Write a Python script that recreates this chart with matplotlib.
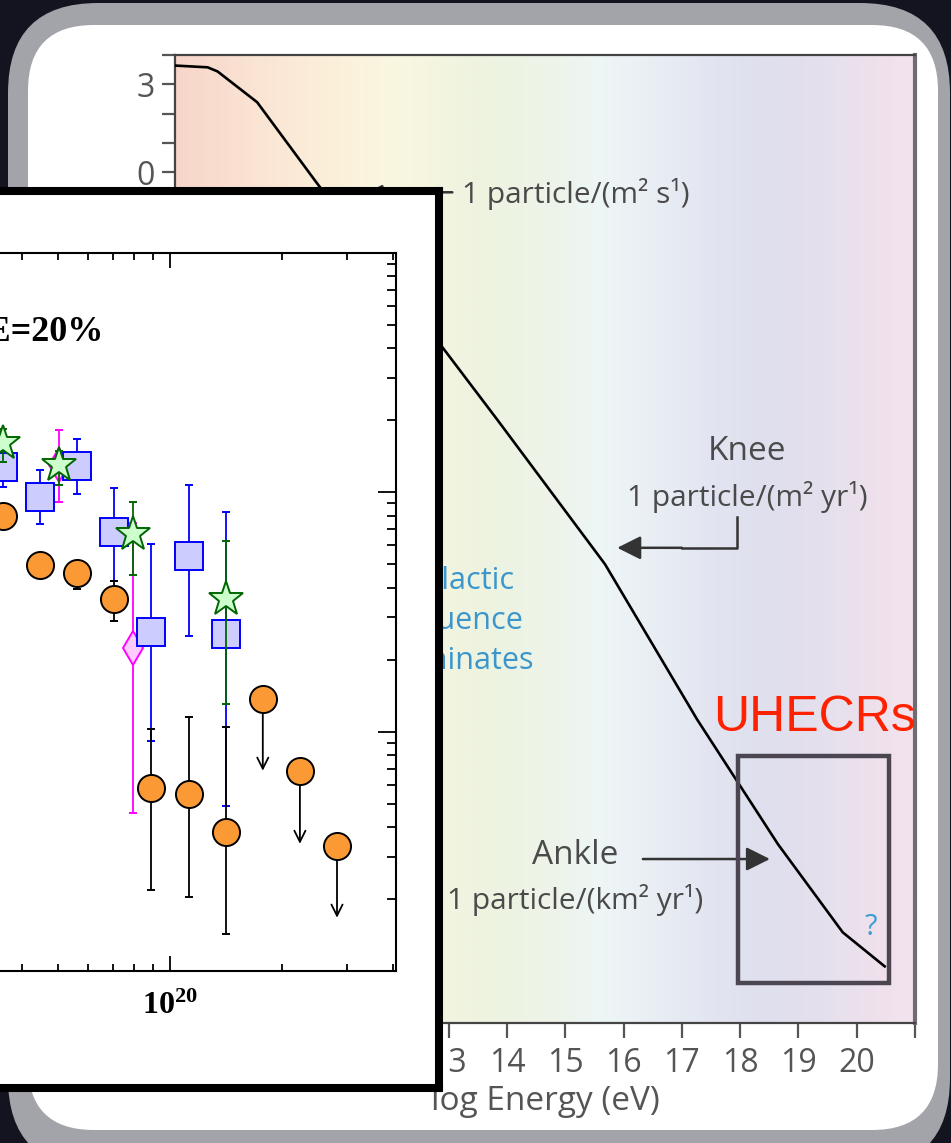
import matplotlib
matplotlib.use("Agg")
import matplotlib.pyplot as plt
import numpy as np
from matplotlib.patches import FancyBboxPatch, Rectangle
from matplotlib.colors import LinearSegmentedColormap
from matplotlib.ticker import LogLocator, FuncFormatter, NullFormatter

plt.rcParams['mathtext.fontset'] = 'custom'
plt.rcParams['mathtext.rm'] = 'Liberation Serif'
plt.rcParams['mathtext.bf'] = 'Liberation Serif:bold'

# ---- main spectrum: log flux vs log energy
spec_logE = [8.30, 8.86, 9.03, 9.71, 10.74, 12.85, 13.83, 15.68, 17.26, 18.65, 19.76, 20.48]
spec_logF = [3.64, 3.58, 3.44, 2.39, -0.38, -5.86, -8.43, -13.36, -18.65, -22.91, -25.91, -27.07]

x_ticks = [9, 10, 11, 12, 13, 14, 15, 16, 17, 18, 19, 20, 21]
x_ticklabels = ['9', '10', '11', '12', '13', '14', '15', '16', '17', '18', '19', '20', '']
y_ticks = list(range(-29, 5))
y_ticklabels = [str(v) if v % 3 == 0 else '' for v in y_ticks]

# ---- inset: four data sets vs energy (eV)
orange_logE = [19.55, 19.65, 19.75, 19.85, 19.95, 20.05, 20.15]
orange_val = [0.80, 0.495, 0.458, 0.357, 0.0583, 0.0550, 0.0382]
orange_lo = [0.77, 0.475, 0.396, 0.291, 0.0218, 0.0204, 0.0143]
orange_hi = [0.83, 0.515, 0.50, 0.425, 0.103, 0.1156, 0.105]
limit_logE = [20.25, 20.35, 20.45]
limit_val = [0.1375, 0.0687, 0.0334]
limit_tip = [0.0687, 0.0340, 0.0167]

square_logE = [19.55, 19.65, 19.75, 19.85, 19.95, 20.05, 20.15]
square_val = [1.27, 0.953, 1.285, 0.680, 0.262, 0.540, 0.255]
square_lo = [1.05, 0.735, 0.981, 0.425, 0.0917, 0.252, 0.049]
square_hi = [1.55, 1.236, 1.667, 1.04, 0.606, 1.07, 0.824]

diamond_logE = [19.70, 19.90]
diamond_val = [1.30, 0.2246]
diamond_lo = [0.908, 0.0458]
diamond_hi = [1.817, 0.742]

star_logE = [19.55, 19.70, 19.90, 20.15]
star_val = [1.60, 1.30, 0.667, 0.360]
star_lo = [1.335, 1.069, 0.450, 0.131]
star_hi = [1.84, 1.485, 0.908, 0.624]

W, H = 951, 1143
fig = plt.figure(figsize=(W / 100, H / 100), dpi=100)
fig.patch.set_facecolor('#13141f')


def px_axes(l, t, r, b, **kw):
    return fig.add_axes([l / W, (H - b) / H, (r - l) / W, (b - t) / H], **kw)


# frame (dark screen, grey rounded border, white card)
bg = px_axes(0, 0, W, H, zorder=0)
bg.set_xlim(0, W)
bg.set_ylim(H, 0)
bg.axis('off')
bg.add_patch(FancyBboxPatch((8, 3), 942, 1165, boxstyle='round,pad=0,rounding_size=90',
                            fc='#a3a4a9', ec='none'))
bg.add_patch(FancyBboxPatch((28, 25), 910, 1105, boxstyle='round,pad=0,rounding_size=66',
                            fc='white', ec='none'))

# ---- main spectrum axes
ax = px_axes(175, 55, 915, 1023, zorder=1)
ax.set_xlim(8.3, 21)
ax.set_ylim(-29, 4)

grad = LinearSegmentedColormap.from_list('band', [
    (0.00, '#f7d6ca'), (0.10, '#fae3d3'), (0.21, '#fbf0da'), (0.30, '#f9f7e1'),
    (0.41, '#eef3df'), (0.52, '#edf4ea'), (0.57, '#eef6f6'), (0.65, '#e9eef4'),
    (0.73, '#e2e5f1'), (0.80, '#dfdfed'), (0.88, '#e5e0ee'), (0.95, '#eee1ec'),
    (1.00, '#f3e3ee')])
ax.imshow(np.linspace(0, 1, 400)[None, :], cmap=grad, aspect='auto',
          extent=(8.3, 21, -29, 4), zorder=0)

ax.plot(spec_logE, spec_logF, color='black', lw=1.9, zorder=3)

for s in ['left', 'top', 'bottom']:
    ax.spines[s].set_color('#444444')
    ax.spines[s].set_linewidth(1.6)
ax.spines['right'].set_color('#6e6e72')
ax.spines['right'].set_linewidth(3)

ax.set_xticks(x_ticks)
ax.set_xticklabels(x_ticklabels)
ax.set_yticks(y_ticks)
ax.set_yticklabels(y_ticklabels)
ax.tick_params(axis='x', direction='out', length=11, width=1.6, color='#555555',
               labelcolor='#555555', labelsize=23, pad=6)
ax.tick_params(axis='y', direction='out', length=9.5, width=1.6, color='#555555',
               labelcolor='#555555', labelsize=23, pad=5)
for lab in ax.get_xticklabels() + ax.get_yticklabels():
    lab.set_fontfamily('Open Sans')
ax.set_xlabel('log Energy (eV)', fontsize=24, color='#555555', family='Open Sans', labelpad=4)

txt = dict(color='#4a4a4a', family='Open Sans')
ax.annotate('', xy=(11.6, -0.68), xytext=(13.06, -0.68),
            arrowprops=dict(arrowstyle='-|>', color='#333333', lw=1.8, mutation_scale=22,
                            shrinkA=0, shrinkB=0), zorder=4)
ax.text(13.23, -0.75, '1 particle/(m² s¹)', fontsize=21.5, ha='left', va='center', **txt)

ax.text(18.12, -9.52, 'Knee', fontsize=24, ha='center', va='center', **txt)
ax.text(18.12, -11.06, '1 particle/(m² yr¹)', fontsize=21.5, ha='center', va='center', **txt)
ax.plot([17.95, 17.95, 17.0], [-11.74, -12.8, -12.8], color='#333333', lw=1.8, zorder=4)
ax.annotate('', xy=(15.89, -12.8), xytext=(17.0, -12.8),
            arrowprops=dict(arrowstyle='-|>', color='#333333', lw=1.8, mutation_scale=36,
                            shrinkA=0, shrinkB=0), zorder=4)

ax.text(15.17, -23.28, 'Ankle', fontsize=24, ha='center', va='center', **txt)
ax.text(15.17, -24.81, '1 particle/(km² yr¹)', fontsize=21.5, ha='center', va='center', **txt)
ax.annotate('', xy=(18.51, -23.41), xytext=(16.33, -23.41),
            arrowprops=dict(arrowstyle='-|>', color='#333333', lw=1.8, mutation_scale=36,
                            shrinkA=0, shrinkB=0), zorder=4)

ax.text(13.16, -15.3, 'Galactic\ninfluence\ndominates', fontsize=22, ha='center',
        va='center', color='#3a96cc', family='Open Sans', linespacing=1.42)

ax.add_patch(Rectangle((17.96, -27.65), 2.59, 7.74, fill=False, ec='#4b4651', lw=3.2, zorder=5))
ax.text(19.28, -18.6, 'UHECRs', fontsize=36, ha='center', va='center', color='#ff2200',
        family='Liberation Sans', zorder=6)
ax.text(20.24, -25.73, '?', fontsize=21, ha='center', va='center', color='#3d9bd0',
        family='Open Sans')

# ---- overlaid inset card
box = px_axes(-20, 191, 439, 1088, zorder=2)
box.set_xticks([])
box.set_yticks([])
box.set_facecolor('white')
for s in box.spines.values():
    s.set_linewidth(5.8)
    s.set_color('black')

ins = px_axes(-260, 253, 396, 971, zorder=3)
ins.set_xscale('log')
ins.set_yscale('log')
ins.set_xlim(10 ** 18.841, 10 ** 20.609)
ins.set_ylim(1e-2, 10)
ins.patch.set_alpha(0)

err = dict(ls='none', capsize=3.2, elinewidth=1.3, capthick=1.3)
ins.errorbar([10 ** v for v in diamond_logE], diamond_val,
             yerr=[np.subtract(diamond_val, diamond_lo), np.subtract(diamond_hi, diamond_val)],
             marker='d', ms=17, mfc='#ffccff', mec='#ff00ff', mew=1.4, ecolor='#ff00ff',
             zorder=2, **err)
ins.errorbar([10 ** v for v in square_logE], square_val,
             yerr=[np.subtract(square_val, square_lo), np.subtract(square_hi, square_val)],
             marker='s', ms=19.5, mfc='#ccccff', mec='#0000ff', mew=1.4, ecolor='#0000ff',
             zorder=3, **err)
ins.errorbar([10 ** v for v in orange_logE], orange_val,
             yerr=[np.subtract(orange_val, orange_lo), np.subtract(orange_hi, orange_val)],
             marker='o', ms=19.5, mfc='#fb9a35', mec='black', mew=1.4, ecolor='black',
             zorder=4, **err)
for e, v, t in zip(limit_logE, limit_val, limit_tip):
    ins.annotate('', xy=(10 ** e, t), xytext=(10 ** e, v),
                 arrowprops=dict(arrowstyle='->', color='black', lw=1.3, mutation_scale=20,
                                 shrinkA=0, shrinkB=0), zorder=4)
ins.plot([10 ** v for v in limit_logE], limit_val, ls='none', marker='o', ms=19.5,
         mfc='#fb9a35', mec='black', mew=1.4, zorder=5)
ins.errorbar([10 ** v for v in star_logE], star_val,
             yerr=[np.subtract(star_val, star_lo), np.subtract(star_hi, star_val)],
             marker='*', ms=26, mfc='#ccffcc', mec='#006600', mew=1.4, ecolor='#006600',
             zorder=6, **err)

for s in ins.spines.values():
    s.set_linewidth(1.5)
ins.xaxis.set_major_locator(LogLocator(base=10, numticks=10))
ins.xaxis.set_minor_locator(LogLocator(base=10, subs=np.arange(2, 10), numticks=20))
ins.xaxis.set_major_formatter(FuncFormatter(
    lambda v, p: r'$\mathbf{10^{%d}}$' % round(np.log10(v)) if v >= 1e20 else ''))
ins.xaxis.set_minor_formatter(NullFormatter())
ins.yaxis.set_major_locator(LogLocator(base=10, numticks=10))
ins.yaxis.set_minor_locator(LogLocator(base=10, subs=np.arange(2, 10), numticks=20))
ins.tick_params(which='both', direction='in', top=True, right=True, left=True, bottom=True,
                labelleft=False, labelright=False, width=1.3)
ins.tick_params(axis='x', which='major', length=11, labelsize=23, pad=14)
ins.tick_params(axis='x', which='minor', length=5)
ins.tick_params(axis='y', which='major', length=13)
ins.tick_params(axis='y', which='minor', length=6.5)

ins.text(10 ** 19.822, 4.67, 'ΔE=20%', fontsize=26, fontweight='bold', ha='right',
         va='center', family='Liberation Serif')

fig.savefig('out.png', dpi=100, facecolor=fig.get_facecolor())
